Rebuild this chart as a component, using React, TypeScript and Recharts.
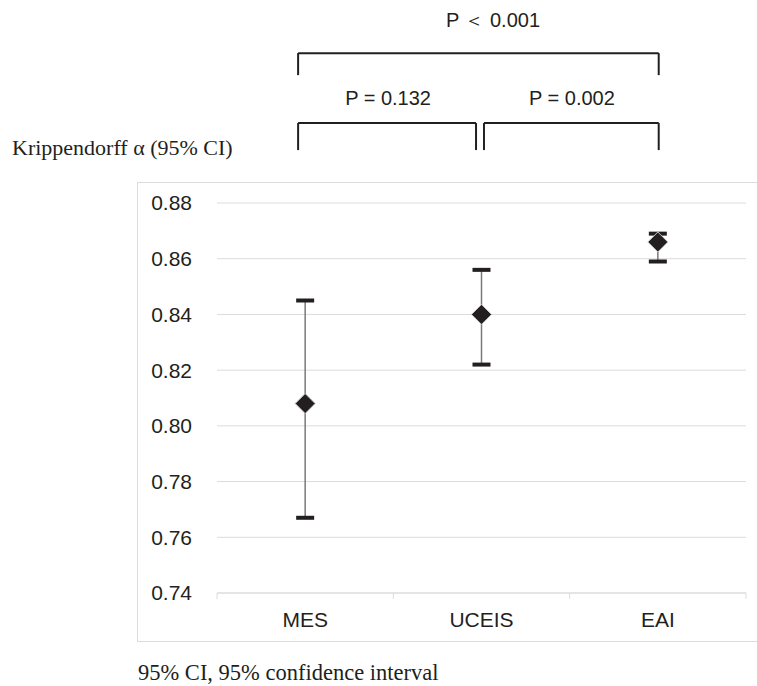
import {
  ComposedChart,
  Scatter,
  ErrorBar,
  XAxis,
  YAxis,
  CartesianGrid,
  ReferenceLine,
  ReferenceDot,
} from 'recharts'

const categorias = ['MES', 'UCEIS', 'EAI']
const alfa = [0.808, 0.84, 0.866]
const limInferior = [0.767, 0.822, 0.859]
const limSuperior = [0.845, 0.856, 0.869]
const ticksY = [0.74, 0.76, 0.78, 0.8, 0.82, 0.84, 0.86, 0.88]
const ticksX = [0, 0.5, 1, 1.5, 2, 2.5, 3]

// comparações entre índices (colchetes acima do gráfico)
const colchetes = [
  { x1: 0.46, x2: 2.505, topo: 0.9338, base: 0.9259 },
  { x1: 0.46, x2: 1.469, topo: 0.9087, base: 0.899 },
  { x1: 1.514, x2: 2.505, topo: 0.9087, base: 0.899 },
]
const rotulosP = [
  { texto: 'P ＜ 0.001', x: 1.565, y: 0.9457 },
  { texto: 'P = 0.132', x: 0.97, y: 0.9177 },
  { texto: 'P = 0.002', x: 2.013, y: 0.9177 },
]

const dados = categorias.map((nome, i) => ({
  nome,
  x: i + 0.5,
  y: alfa[i],
  err: [alfa[i] - limInferior[i], limSuperior[i] - alfa[i]],
}))
const dadosInf = categorias.map((nome, i) => ({ nome, x: i + 0.5, y: limInferior[i] }))
const dadosSup = categorias.map((nome, i) => ({ nome, x: i + 0.5, y: limSuperior[i] }))

const SANS = '"Liberation Sans", Arial, sans-serif'
const SERIF = '"Liberation Serif", "Times New Roman", serif'
const TEXTO = '#231f20'
const GRADE = '#dcdcdc'

function Losango(props: any) {
  const { cx, cy } = props
  const r = 10
  return (
    <polygon
      points={`${cx},${cy - r} ${cx + r},${cy} ${cx},${cy + r} ${cx - r},${cy}`}
      fill={TEXTO}
      stroke="#c8c8c8"
      strokeWidth={1}
    />
  )
}

function Barra(props: any) {
  const { cx, cy } = props
  return <rect x={cx - 9} y={cy - 2} width={18} height={4} fill={TEXTO} />
}

function TickX(props: any) {
  const { x, y, payload } = props
  const v = payload.value
  if (Number.isInteger(v)) {
    return <line x1={x} y1={y} x2={x} y2={y + 6} stroke={GRADE} strokeWidth={1} />
  }
  return (
    <text x={x} y={y + 34} textAnchor="middle" fill={TEXTO} fontSize={21} fontFamily={SANS}>
      {categorias[Math.floor(v)]}
    </text>
  )
}

function RotuloP({ viewBox, value }: any) {
  return (
    <text
      x={viewBox.cx ?? viewBox.x}
      y={viewBox.cy ?? viewBox.y}
      dy="0.355em"
      textAnchor="middle"
      fill={TEXTO}
      fontSize={20}
      fontFamily={SANS}
    >
      {value}
    </text>
  )
}

export default function App() {
  return (
    <div style={{ position: 'absolute', left: 0, top: 0, width: 757, height: 686, background: '#fff' }}>
      <div
        style={{
          position: 'absolute',
          left: 137,
          top: 182,
          width: 640,
          height: 458,
          border: `1px solid ${GRADE}`,
        }}
      />
      <div
        style={{
          position: 'absolute',
          left: 12,
          top: 135,
          fontFamily: SERIF,
          fontSize: 22,
          color: TEXTO,
          whiteSpace: 'nowrap',
        }}
      >
        Krippendorff α (95% CI)
      </div>
      <div
        style={{
          position: 'absolute',
          left: 138,
          top: 660,
          fontFamily: SERIF,
          fontSize: 22.5,
          color: TEXTO,
          whiteSpace: 'nowrap',
        }}
      >
        95% CI, 95% confidence interval
      </div>
      <div style={{ position: 'absolute', left: 0, top: 0 }}>
        <ComposedChart width={757} height={686} margin={{ top: 203, right: 11, bottom: 0, left: 0 }}>
          <CartesianGrid vertical={false} stroke={GRADE} />
          <XAxis
            type="number"
            dataKey="x"
            domain={[0, 3]}
            ticks={ticksX}
            interval={0}
            height={93}
            axisLine={{ stroke: GRADE }}
            tickLine={false}
            tickSize={0}
            tickMargin={0}
            tick={<TickX />}
          />
          <YAxis
            type="number"
            dataKey="y"
            domain={[0.74, 0.88]}
            ticks={ticksY}
            width={217}
            axisLine={false}
            tickLine={false}
            tickSize={0}
            tickMargin={25}
            tickFormatter={(v: number) => v.toFixed(2)}
            tick={{ fill: TEXTO, fontSize: 21, fontFamily: SANS }}
          />
          {colchetes.map((c, i) => [
            <ReferenceLine
              key={`h${i}`}
              segment={[{ x: c.x1, y: c.topo }, { x: c.x2, y: c.topo }]}
              stroke={TEXTO}
              strokeWidth={2}
              ifOverflow="visible"
            />,
            <ReferenceLine
              key={`a${i}`}
              segment={[{ x: c.x1, y: c.topo }, { x: c.x1, y: c.base }]}
              stroke={TEXTO}
              strokeWidth={2}
              ifOverflow="visible"
            />,
            <ReferenceLine
              key={`b${i}`}
              segment={[{ x: c.x2, y: c.topo }, { x: c.x2, y: c.base }]}
              stroke={TEXTO}
              strokeWidth={2}
              ifOverflow="visible"
            />,
          ])}
          {rotulosP.map((r, i) => (
            <ReferenceDot
              key={`p${i}`}
              x={r.x}
              y={r.y}
              r={0}
              stroke="none"
              fill="none"
              ifOverflow="visible"
              label={<RotuloP value={r.texto} />}
            />
          ))}
          <Scatter data={dadosInf} shape={<Barra />} isAnimationActive={false} />
          <Scatter data={dadosSup} shape={<Barra />} isAnimationActive={false} />
          <Scatter data={dados} shape={<Losango />} isAnimationActive={false}>
            <ErrorBar dataKey="err" direction="y" width={0} stroke="#7a7a7a" strokeWidth={1.5} />
          </Scatter>
        </ComposedChart>
      </div>
    </div>
  )
}
